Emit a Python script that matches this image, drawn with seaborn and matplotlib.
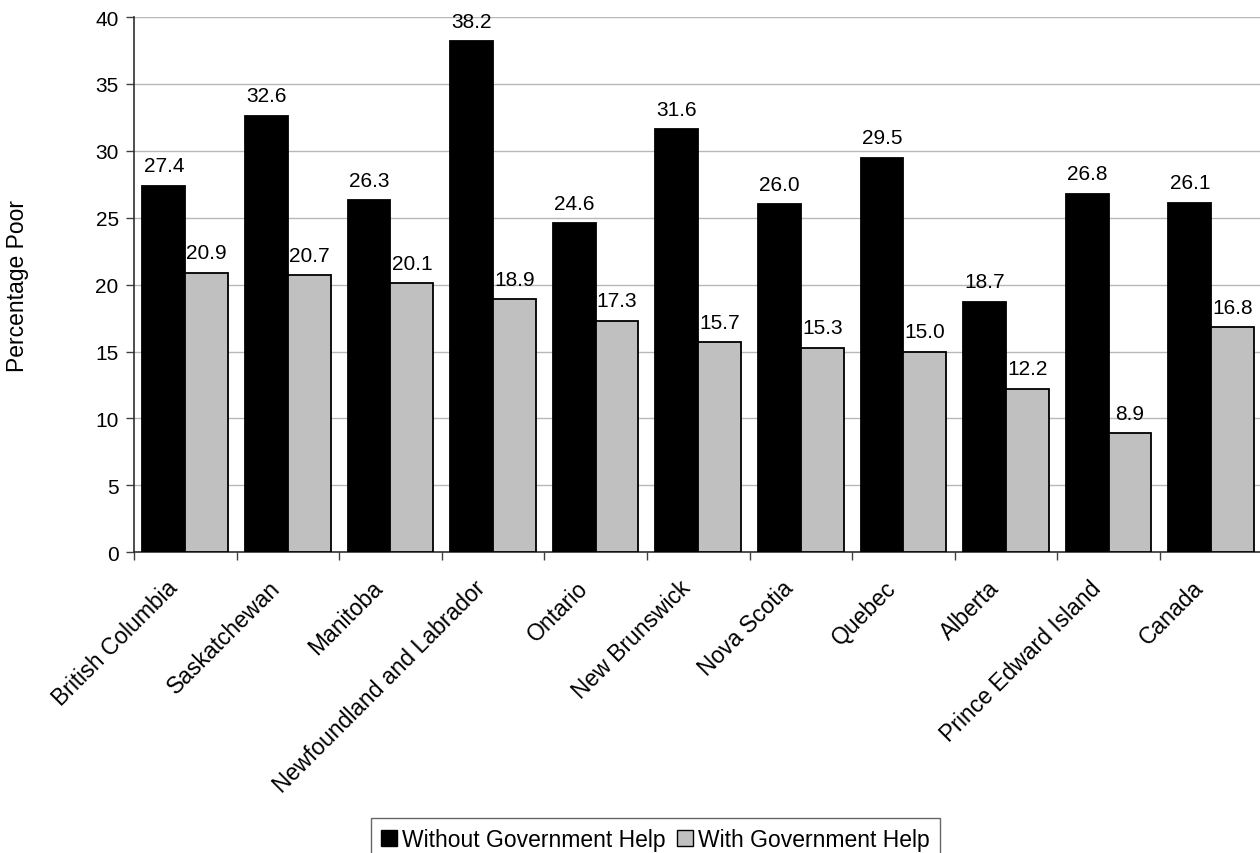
import matplotlib
matplotlib.use("Agg")
import matplotlib.pyplot as plt
import matplotlib.transforms as mtransforms
import seaborn as sns
import pandas as pd
import numpy as np
from matplotlib.patches import Patch

provinces = ["British Columbia", "Saskatchewan", "Manitoba", "Newfoundland and Labrador",
             "Ontario", "New Brunswick", "Nova Scotia", "Quebec", "Alberta",
             "Prince Edward Island", "Canada"]
without_help = [27.4, 32.6, 26.3, 38.2, 24.6, 31.6, 26.0, 29.5, 18.7, 26.8, 26.1]
with_help = [20.9, 20.7, 20.1, 18.9, 17.3, 15.7, 15.3, 15.0, 12.2, 8.9, 16.8]
series = ["Without Government Help", "With Government Help"]
y_ticks = [0, 5, 10, 15, 20, 25, 30, 35, 40]

sns.set_style("white")
plt.rcParams["font.family"] = ["Liberation Sans", "DejaVu Sans"]
plt.rcParams["text.color"] = "black"
plt.rcParams["xtick.color"] = "black"
plt.rcParams["ytick.color"] = "black"
plt.rcParams["axes.labelcolor"] = "black"
FS_NUM = 15
FS_TXT = 16.5

df = pd.DataFrame({
    "Province": provinces * 2,
    "Value": without_help + with_help,
    "Series": [series[0]] * len(provinces) + [series[1]] * len(provinces),
})

fig = plt.figure(figsize=(12.6, 8.54), dpi=100)
ax = fig.add_axes([0.1063, 0.3521, 0.8957, 0.6268])

palette = {series[0]: "#000000", series[1]: "#c0c0c0"}
sns.barplot(data=df, x="Province", y="Value", hue="Series", order=provinces,
            hue_order=series, palette=palette, width=0.834, dodge=True,
            edgecolor="black", linewidth=1.3, saturation=1, ax=ax, legend=False,
            zorder=3)

ax.set_xlim(-0.5, len(provinces) - 0.5)
ax.set_ylim(0, 40)
ax.set_yticks(y_ticks)
ax.set_yticklabels([str(t) for t in y_ticks], fontsize=FS_NUM)
ax.yaxis.grid(True, color="#b8b8b8", linewidth=1.0, zorder=0)
ax.set_axisbelow(True)

# value labels above each bar
for container, vals in zip(ax.containers, [without_help, with_help]):
    for rect, v in zip(container, vals):
        ax.annotate(f"{v:.1f}", (rect.get_x() + rect.get_width() / 2, v),
                    xytext=(0, 10.5), textcoords="offset points",
                    ha="center", va="baseline", fontsize=FS_NUM, zorder=5)

# category labels at centres, tick marks at category boundaries
ax.set_xticks(np.arange(len(provinces)))
ax.set_xticklabels(provinces, rotation=45, ha="right", rotation_mode="anchor",
                   fontsize=FS_TXT)
ax.tick_params(axis="x", which="major", length=0, pad=17)
shift = mtransforms.ScaledTranslation(-19 / 100, 0, fig.dpi_scale_trans)
for lbl in ax.get_xticklabels():
    lbl.set_transform(lbl.get_transform() + shift)
ax.set_xticks(np.arange(len(provinces) + 1) - 0.5, minor=True)
ax.tick_params(axis="x", which="minor", length=6, width=1, color="#404040",
               direction="out", bottom=True)
ax.tick_params(axis="y", length=6, width=1, color="#404040", direction="out",
               left=True, pad=5)

for s in ["top", "right"]:
    ax.spines[s].set_visible(False)
for s in ["left", "bottom"]:
    ax.spines[s].set_color("#303030")
    ax.spines[s].set_linewidth(1.2)

ax.set_xlabel("")
ax.set_ylabel("")
fig.text(18 / 1260, 1 - 286 / 854, "Percentage Poor", rotation=90,
         ha="center", va="center", fontsize=FS_TXT)

handles = [Patch(facecolor=palette[s], edgecolor="black", linewidth=1.0, label=s)
           for s in series]
leg = fig.legend(handles=handles, loc="upper left",
                 bbox_to_anchor=(371 / 1260, 1 - 819 / 854),
                 ncol=2, fontsize=FS_TXT, frameon=True, fancybox=False,
                 handlelength=0.7, handleheight=0.7, handletextpad=0.2,
                 columnspacing=0.5, borderpad=0.45, borderaxespad=0)
leg.get_frame().set_edgecolor("#404040")
leg.get_frame().set_linewidth(1.0)

fig.savefig("out.png", dpi=100)
